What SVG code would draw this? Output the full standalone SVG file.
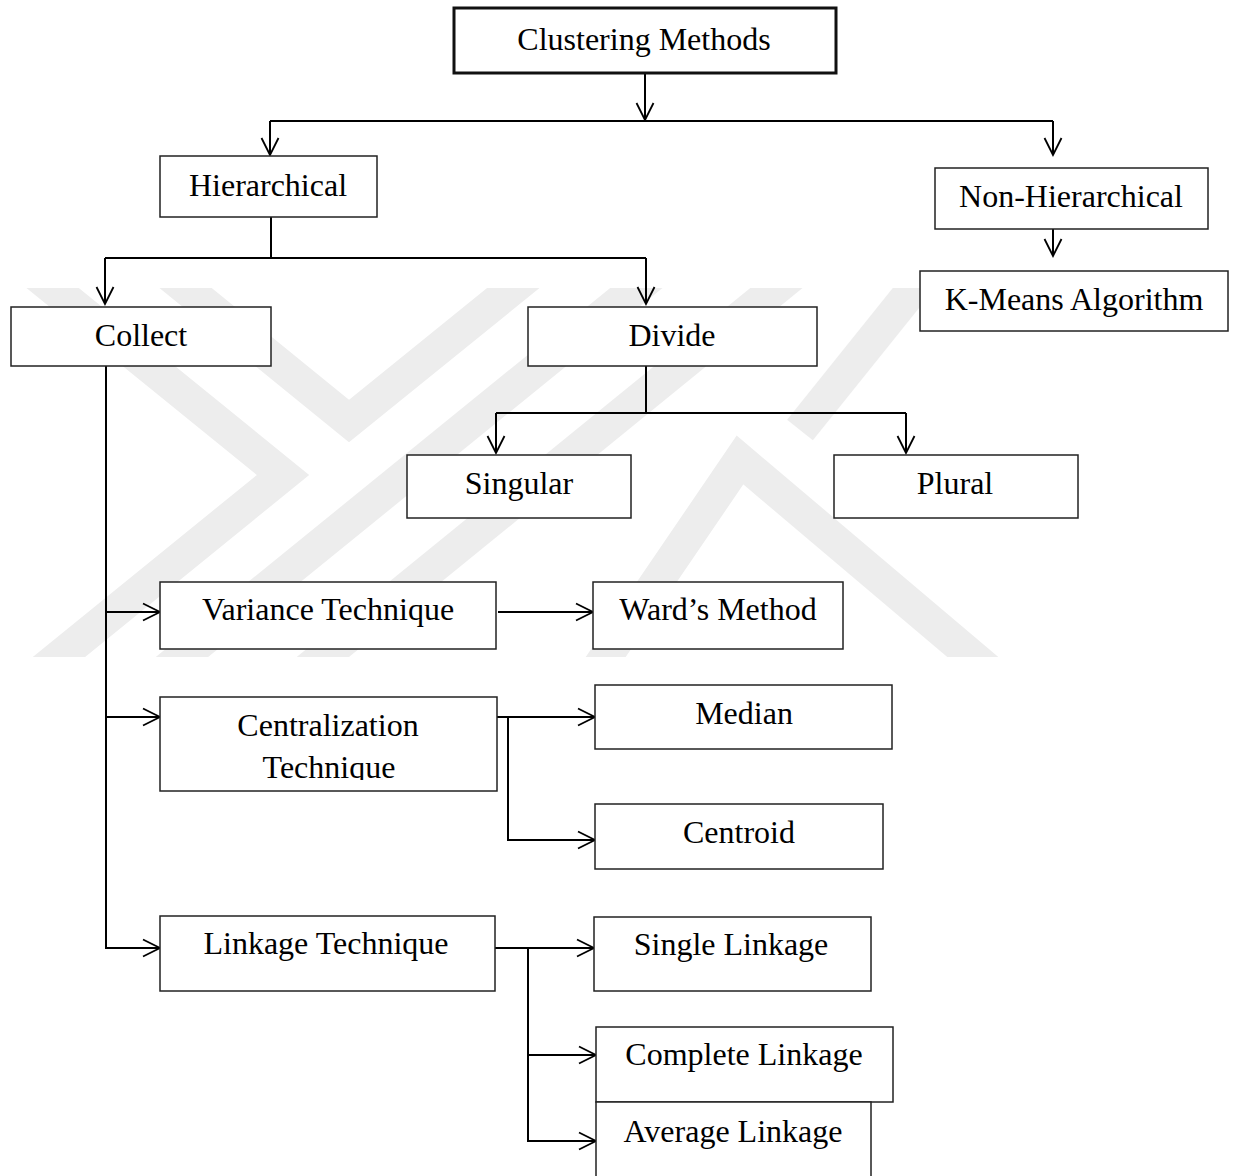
<svg xmlns="http://www.w3.org/2000/svg" width="1234" height="1176" viewBox="0 0 1234 1176">
  <style>
    .box { fill: #ffffff; stroke: #222222; stroke-width: 1.5; }
    .main { fill: #ffffff; stroke: #111111; stroke-width: 3; }
    .lbl { font-family: "Liberation Serif", "Times New Roman", serif; font-size: 32px; fill: #000000; text-anchor: middle; }
    .con { fill: none; stroke: #000000; stroke-width: 2; }
    .wm { fill: none; stroke: #ededed; stroke-width: 33; stroke-linejoin: miter; }
  </style>
  <defs>
    <marker id="arr" viewBox="0 0 20 20" refX="18" refY="10" markerWidth="20" markerHeight="20" markerUnits="userSpaceOnUse" orient="auto">
      <path d="M1,1.5 L18,10 L1,18.5" fill="none" stroke="#000000" stroke-width="1.8"/>
    </marker>
    <clipPath id="wmclip">
      <rect x="0" y="288" width="1234" height="369"/>
    </clipPath>
    <clipPath id="techclip">
      <rect x="160" y="697" width="337" height="83"/>
    </clipPath>
  </defs>
  <rect x="0" y="0" width="1234" height="1176" fill="#ffffff"/>

  <g id="watermark" clip-path="url(#wmclip)">
    <polyline class="wm" points="28,268 283,475 6,700"/>
    <polyline class="wm" points="161,268 349,421 538,268"/>
    <polyline class="wm" points="661,268 129,700"/>
    <polyline class="wm" points="801,268 270,700"/>
    <polyline class="wm" points="590,680 740,460 1000,680"/>
    <polyline class="wm" points="930,268 800,430"/>
  </g>

  <g id="connectors">
    <path class="con" d="M645,73 V120" marker-end="url(#arr)"/>
    <path class="con" d="M270,121 H1053"/>
    <path class="con" d="M270,121 V155" marker-end="url(#arr)"/>
    <path class="con" d="M1053,121 V155" marker-end="url(#arr)"/>
    <path class="con" d="M1053,217 V256" marker-end="url(#arr)"/>
    <path class="con" d="M271,217 V258"/>
    <path class="con" d="M105,258 H646"/>
    <path class="con" d="M105,258 V304" marker-end="url(#arr)"/>
    <path class="con" d="M646,258 V304" marker-end="url(#arr)"/>
    <path class="con" d="M646,366 V413"/>
    <path class="con" d="M496,413 H906"/>
    <path class="con" d="M496,413 V453" marker-end="url(#arr)"/>
    <path class="con" d="M906,413 V453" marker-end="url(#arr)"/>
    <path class="con" d="M106,366 V948 H160" marker-end="url(#arr)"/>
    <path class="con" d="M106,612 H160" marker-end="url(#arr)"/>
    <path class="con" d="M106,717 H160" marker-end="url(#arr)"/>
    <path class="con" d="M498,612 H593" marker-end="url(#arr)"/>
    <path class="con" d="M497,717 H595" marker-end="url(#arr)"/>
    <path class="con" d="M508,717 V840 H595" marker-end="url(#arr)"/>
    <path class="con" d="M495,948 H594" marker-end="url(#arr)"/>
    <path class="con" d="M528,948 V1141 H596" marker-end="url(#arr)"/>
    <path class="con" d="M528,1055 H596" marker-end="url(#arr)"/>
  </g>

  <g id="clustering-methods">
    <rect class="main" x="454" y="8" width="382" height="65"/>
    <text class="lbl" x="644" y="50">Clustering Methods</text>
  </g>
  <g id="hierarchical">
    <rect class="box" x="160" y="156" width="217" height="61"/>
    <text class="lbl" x="268" y="196">Hierarchical</text>
  </g>
  <g id="non-hierarchical">
    <rect class="box" x="935" y="168" width="273" height="61"/>
    <text class="lbl" x="1071" y="207">Non-Hierarchical</text>
  </g>
  <g id="k-means">
    <rect class="box" x="920" y="271" width="308" height="60"/>
    <text class="lbl" x="1074" y="310">K-Means Algorithm</text>
  </g>
  <g id="collect">
    <rect class="box" x="11" y="307" width="260" height="59"/>
    <text class="lbl" x="141" y="346">Collect</text>
  </g>
  <g id="divide">
    <rect class="box" x="528" y="307" width="289" height="59"/>
    <text class="lbl" x="672" y="346">Divide</text>
  </g>
  <g id="singular">
    <rect class="box" x="407" y="455" width="224" height="63"/>
    <text class="lbl" x="519" y="494">Singular</text>
  </g>
  <g id="plural">
    <rect class="box" x="834" y="455" width="244" height="63"/>
    <text class="lbl" x="955" y="494">Plural</text>
  </g>
  <g id="variance-technique">
    <rect class="box" x="160" y="582" width="336" height="67"/>
    <text class="lbl" x="328" y="620">Variance Technique</text>
  </g>
  <g id="wards-method">
    <rect class="box" x="593" y="582" width="250" height="67"/>
    <text class="lbl" x="718" y="620">Ward’s Method</text>
  </g>
  <g id="centralization-technique">
    <rect class="box" x="160" y="697" width="337" height="94"/>
    <text class="lbl" x="328" y="736">Centralization</text>
    <text class="lbl" x="329" y="778" clip-path="url(#techclip)">Technique</text>
  </g>
  <g id="median">
    <rect class="box" x="595" y="685" width="297" height="64"/>
    <text class="lbl" x="744" y="724">Median</text>
  </g>
  <g id="centroid">
    <rect class="box" x="595" y="804" width="288" height="65"/>
    <text class="lbl" x="739" y="843">Centroid</text>
  </g>
  <g id="linkage-technique">
    <rect class="box" x="160" y="916" width="335" height="75"/>
    <text class="lbl" x="326" y="954">Linkage Technique</text>
  </g>
  <g id="single-linkage">
    <rect class="box" x="594" y="917" width="277" height="74"/>
    <text class="lbl" x="731" y="955">Single Linkage</text>
  </g>
  <g id="complete-linkage">
    <rect class="box" x="596" y="1027" width="297" height="75"/>
    <text class="lbl" x="744" y="1065">Complete Linkage</text>
  </g>
  <g id="average-linkage">
    <rect class="box" x="596" y="1102" width="275" height="84"/>
    <text class="lbl" x="733" y="1142">Average Linkage</text>
  </g>
</svg>
